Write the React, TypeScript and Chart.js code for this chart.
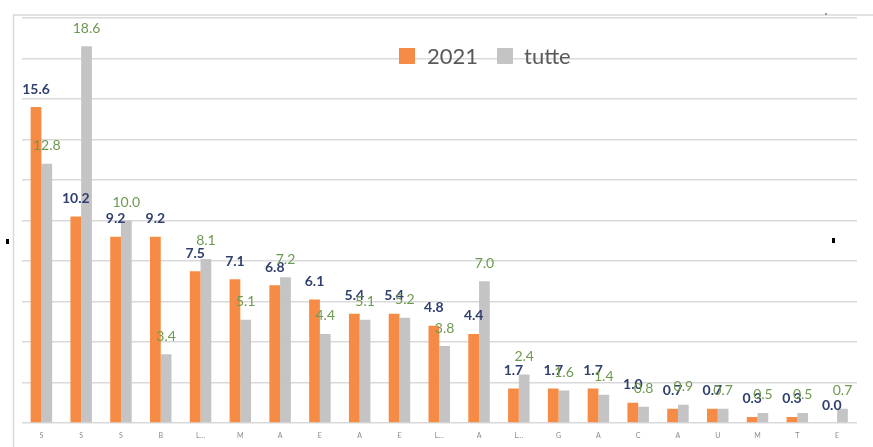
import React, { useEffect, useRef } from "react";
import { Chart, registerables } from "chart.js";

Chart.register(...registerables);

const categories = ["S", "S", "S", "B", "L…", "M", "A", "E", "A", "E", "L…", "A", "L…", "G", "A", "C", "A", "U", "M", "T", "E"];
const values2021 = [15.6, 10.2, 9.2, 9.2, 7.5, 7.1, 6.8, 6.1, 5.4, 5.4, 4.8, 4.4, 1.7, 1.7, 1.7, 1.0, 0.7, 0.7, 0.3, 0.3, 0.0];
const valuesTutte = [12.8, 18.6, 10.0, 3.4, 8.1, 5.1, 7.2, 4.4, 5.1, 5.2, 3.8, 7.0, 2.4, 1.6, 1.4, 0.8, 0.9, 0.7, 0.5, 0.5, 0.7];
const seriesLabels = ["2021", "tutte"];
const seriesColors = ["#F58B45", "#C4C4C4"];
const labelColors = ["#2F3F6E", "#6E9A50"];

const decorPlugin = {
  id: "decor",
  beforeDraw(chart: any) {
    const ctx = chart.ctx;
    ctx.save();
    ctx.fillStyle = "#ffffff";
    ctx.fillRect(0, 0, chart.width, chart.height);
    ctx.strokeStyle = "#D9D9D9";
    ctx.lineWidth = 1.5;
    ctx.beginPath();
    ctx.moveTo(13.5, 447);
    ctx.lineTo(13.5, 15);
    ctx.lineTo(873, 15);
    ctx.stroke();
    ctx.fillStyle = "#000";
    ctx.fillRect(6, 239, 3, 5);
    ctx.fillRect(832, 238, 3, 5);
    ctx.fillStyle = "#999";
    ctx.fillRect(825, 13, 2, 2);
    ctx.restore();
  },
  afterDatasetsDraw(chart: any) {
    const ctx = chart.ctx;
    ctx.save();
    ctx.textAlign = "center";
    ctx.textBaseline = "middle";
    chart.data.datasets.forEach((ds: any, di: number) => {
      const meta = chart.getDatasetMeta(di);
      ctx.fillStyle = labelColors[di];
      ctx.font = di === 0 ? "bold 14px Lato" : "14px Lato";
      meta.data.forEach((bar: any, i: number) => {
        const v = ds.data[i];
        ctx.fillText(v.toFixed(1), bar.x, bar.y - 18);
      });
    });
    // legend
    const items = [
      { x: 399, tx: 427 },
      { x: 497, tx: 524 },
    ];
    ctx.textAlign = "left";
    ctx.font = "22px Lato";
    items.forEach((it, i) => {
      ctx.fillStyle = seriesColors[i];
      ctx.fillRect(it.x, 48, 16, 16);
      ctx.fillStyle = "#595959";
      ctx.fillText(chart.data.datasets[i].label, it.tx, 57);
    });
    ctx.restore();
  },
};

export default function App() {
  const ref = useRef<HTMLCanvasElement | null>(null);
  useEffect(() => {
    if (!ref.current) return;
    const chart = new Chart(ref.current, {
      type: "bar",
      data: {
        labels: categories,
        datasets: [
          { label: seriesLabels[0], data: values2021, backgroundColor: seriesColors[0], categoryPercentage: 0.54, barPercentage: 1 },
          { label: seriesLabels[1], data: valuesTutte, backgroundColor: seriesColors[1], categoryPercentage: 0.54, barPercentage: 1 },
        ],
      },
      options: {
        animation: false,
        responsive: false,
        devicePixelRatio: 1,
        layout: { padding: { left: 21.5, right: 16, top: 18, bottom: 0 } },
        plugins: { legend: { display: false }, tooltip: { enabled: false } },
        scales: {
          x: {
            grid: { display: false, drawTicks: false },
            border: { display: false },
            ticks: { font: { size: 7, family: "Lato" }, color: "#8A8A8A", padding: 9, maxRotation: 0, autoSkip: false },
            afterFit: (s: any) => { s.height = 24; },
          },
          y: {
            min: 0,
            max: 20,
            ticks: { stepSize: 2, display: false },
            grid: { color: "#D9D9D9", lineWidth: 1.5, drawTicks: false },
            border: { display: false },
            afterFit: (s: any) => { s.width = 0; },
          },
        },
      },
      plugins: [decorPlugin],
    });
    return () => chart.destroy();
  }, []);
  return (
    <div style={{ position: "fixed", left: 0, top: 0, width: 873, height: 447, background: "#fff" }}>
      <canvas ref={ref} width={873} height={447} style={{ display: "block" }} />
    </div>
  );
}
